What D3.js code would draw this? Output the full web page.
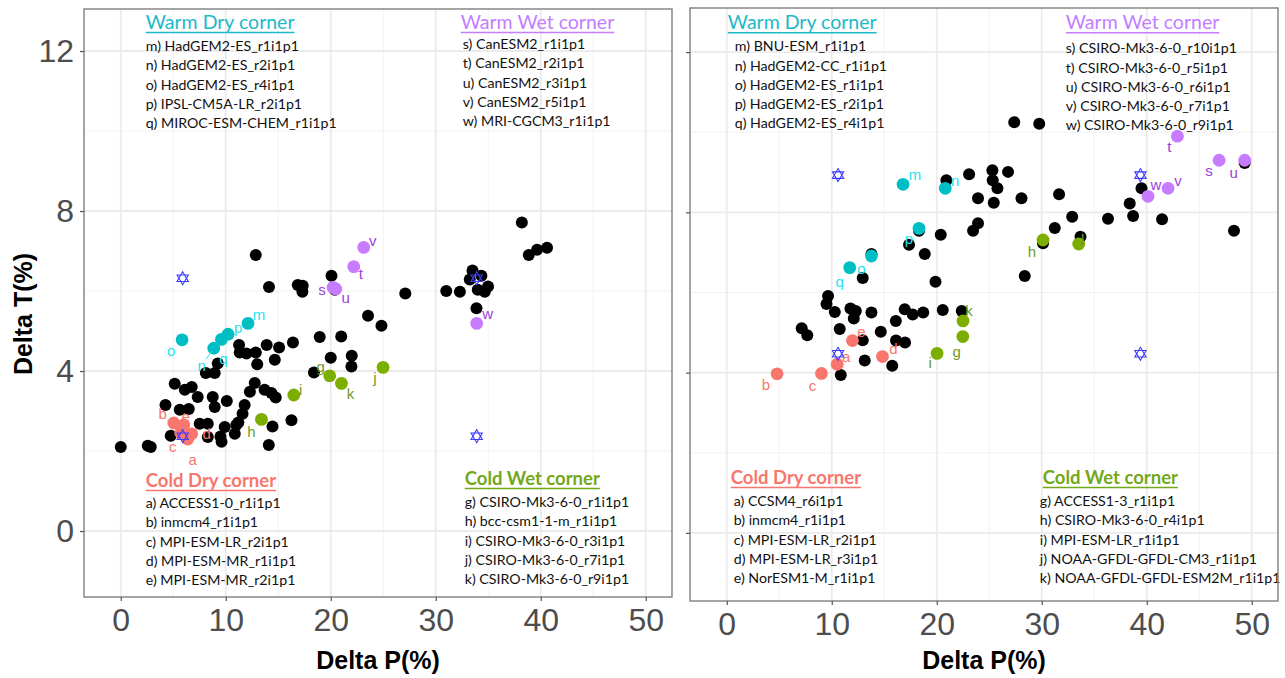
<!DOCTYPE html>
<html lang="en">
<head>
<meta charset="UTF-8">
<title>Delta P vs Delta T</title>
<script src="https://cdn.jsdelivr.net/npm/d3@7/dist/d3.min.js"></script>
<style>
  body { margin: 0; background: #fff; }
  text { font-family: "Liberation Sans", Arial, sans-serif; }
  .legend text { font-family: Lato, "Open Sans", sans-serif; }
</style>
</head>
<body>
<svg id="chart" width="1285" height="678"></svg>
<script>
// ---- data ----
const xTicks = [0, 10, 20, 30, 40, 50]
const yTicks = [0, 4, 8, 12]

// whole ensemble, [deltaP, deltaT]
const leftBlack = [
  [0.0, 2.10], [2.57, 2.13], [2.86, 2.10], [4.26, 3.15], [5.14, 3.68], [6.10, 3.53], [6.76, 3.60],
  [5.62, 3.03], [6.48, 3.05], [7.33, 3.35], [8.76, 3.35], [8.95, 3.10], [10.1, 3.25], [4.76, 2.38],
  [7.52, 2.68], [8.29, 2.68], [8.29, 2.35], [9.5, 2.36], [9.6, 2.23], [9.9, 2.60], [10.86, 2.43],
  [11.0, 2.65], [11.2, 2.71], [11.6, 2.93], [11.8, 3.15], [12.3, 3.48], [12.76, 3.70], [13.7, 3.53],
  [14.35, 3.45], [14.76, 3.34], [14.45, 2.61], [14.1, 2.15], [8.1, 3.95], [8.95, 3.95], [9.24, 4.19],
  [11.27, 4.65], [11.33, 4.46], [11.97, 4.44], [12.86, 4.46], [13.0, 4.17], [13.9, 4.65], [14.67, 4.28],
  [15.08, 4.59], [16.4, 4.71], [18.95, 4.85], [21.0, 4.86], [20.0, 4.33], [22.0, 4.38], [21.97, 4.11],
  [18.4, 3.96], [16.26, 2.77], [12.86, 6.90], [14.12, 6.10], [16.86, 6.15], [17.33, 6.13], [17.3, 5.98],
  [20.07, 6.38], [20.4, 6.03], [27.1, 5.94], [31.0, 6.0], [32.3, 5.98], [23.55, 5.38], [24.83, 5.13],
  [38.2, 7.71], [38.86, 6.90], [39.65, 7.03], [40.6, 7.08], [33.5, 6.51], [34.35, 6.38], [33.24, 6.29],
  [34.0, 6.03], [34.98, 6.11], [34.67, 5.98], [33.88, 5.57]
]
const rightBlack = [
  [20.92, 8.80], [23.08, 8.95], [25.30, 9.05], [25.33, 8.80], [25.78, 8.60], [26.79, 9.01], [23.93, 8.35],
  [25.43, 8.24], [28.07, 8.35], [31.65, 8.45], [23.93, 7.73], [23.46, 7.54], [20.38, 7.44], [17.36, 7.19],
  [18.86, 6.96], [12.95, 6.36], [19.88, 6.27], [9.65, 5.91], [9.50, 5.71], [10.29, 5.51], [11.78, 5.60],
  [12.29, 5.54], [12.1, 5.35], [13.78, 5.50], [16.95, 5.58], [17.71, 5.45], [18.71, 5.50], [20.57, 5.56],
  [22.38, 5.54], [16.1, 5.29], [7.14, 5.11], [7.67, 4.93], [10.76, 5.09], [14.67, 5.02], [12.95, 4.81],
  [16.12, 4.80], [16.98, 4.75], [13.14, 4.30], [15.76, 4.17], [10.86, 3.94], [27.38, 10.25], [29.76, 10.21],
  [32.9, 7.89], [36.31, 7.84], [38.38, 8.22], [31.24, 7.61], [30.12, 7.23], [33.69, 7.39], [28.38, 6.41],
  [39.5, 8.60], [38.7, 7.91], [41.46, 7.83], [48.31, 7.54], [49.33, 9.23], [18.31, 7.54], [13.78, 6.96]
]

// corner models, [letter, deltaP, deltaT]
const leftCorner = [
  ['a', 6.38, 2.30], ['b', 5.05, 2.70], ['c', 5.71, 2.45], ['d', 6.76, 2.43], ['e', 6.0, 2.65],
  ['g', 19.9, 3.88], ['h', 13.4, 2.79], ['i', 16.48, 3.40], ['j', 24.98, 4.09], ['k', 21.02, 3.69],
  ['m', 12.12, 5.19], ['n', 8.86, 4.57], ['o', 5.84, 4.78], ['p', 10.22, 4.92], ['q', 9.59, 4.79],
  ['s', 20.22, 6.09], ['t', 22.19, 6.61], ['u', 20.48, 6.05], ['v', 23.14, 7.09], ['w', 33.9, 5.19]
]
const rightCorner = [
  ['a', 10.52, 4.21], ['b', 4.79, 3.97], ['c', 9.02, 3.98], ['d', 14.83, 4.40], ['e', 11.97, 4.80],
  ['g', 22.48, 4.90], ['h', 30.12, 7.31], ['i', 20.03, 4.48], ['j', 33.52, 7.21], ['k', 22.5, 5.29],
  ['m', 16.79, 8.70], ['n', 20.81, 8.60], ['o', 13.78, 6.91], ['p', 18.31, 7.60], ['q', 11.71, 6.62],
  ['s', 46.89, 9.30], ['t', 42.92, 9.90], ['u', 49.33, 9.30], ['v', 42.03, 8.60], ['w', 40.12, 8.40]
]

// corner markers (stars)
const leftStars = [[5.9, 2.37], [5.9, 6.32], [33.9, 2.37], [33.9, 6.32]]
const rightStars = [[10.6, 4.47], [10.6, 8.93], [39.4, 4.47], [39.4, 8.93]]

// model names
const leftWarmDry = ['m) HadGEM2-ES_r1i1p1', 'n) HadGEM2-ES_r2i1p1', 'o) HadGEM2-ES_r4i1p1', 'p) IPSL-CM5A-LR_r2i1p1', 'q) MIROC-ESM-CHEM_r1i1p1']
const leftWarmWet = ['s) CanESM2_r1i1p1', 't) CanESM2_r2i1p1', 'u) CanESM2_r3i1p1', 'v) CanESM2_r5i1p1', 'w) MRI-CGCM3_r1i1p1']
const leftColdDry = ['a) ACCESS1-0_r1i1p1', 'b) inmcm4_r1i1p1', 'c) MPI-ESM-LR_r2i1p1', 'd) MPI-ESM-MR_r1i1p1', 'e) MPI-ESM-MR_r2i1p1']
const leftColdWet = ['g) CSIRO-Mk3-6-0_r1i1p1', 'h) bcc-csm1-1-m_r1i1p1', 'i) CSIRO-Mk3-6-0_r3i1p1', 'j) CSIRO-Mk3-6-0_r7i1p1', 'k) CSIRO-Mk3-6-0_r9i1p1']
const rightWarmDry = ['m) BNU-ESM_r1i1p1', 'n) HadGEM2-CC_r1i1p1', 'o) HadGEM2-ES_r1i1p1', 'p) HadGEM2-ES_r2i1p1', 'q) HadGEM2-ES_r4i1p1']
const rightWarmWet = ['s) CSIRO-Mk3-6-0_r10i1p1', 't) CSIRO-Mk3-6-0_r5i1p1', 'u) CSIRO-Mk3-6-0_r6i1p1', 'v) CSIRO-Mk3-6-0_r7i1p1', 'w) CSIRO-Mk3-6-0_r9i1p1']
const rightColdDry = ['a) CCSM4_r6i1p1', 'b) inmcm4_r1i1p1', 'c) MPI-ESM-LR_r2i1p1', 'd) MPI-ESM-LR_r3i1p1', 'e) NorESM1-M_r1i1p1']
const rightColdWet = ['g) ACCESS1-3_r1i1p1', 'h) CSIRO-Mk3-6-0_r4i1p1', 'i) MPI-ESM-LR_r1i1p1', 'j) NOAA-GFDL-GFDL-CM3_r1i1p1', 'k) NOAA-GFDL-GFDL-ESM2M_r1i1p1']

// ---- styling ----
const groupOf = l => 'abcde'.includes(l) ? 'coldDry' : 'ghijk'.includes(l) ? 'coldWet' : 'mnopq'.includes(l) ? 'warmDry' : 'warmWet'
const pointColor = { coldDry: '#F8766D', coldWet: '#7CAE00', warmDry: '#00BFC4', warmWet: '#C77CFF' }
const labelColor = { coldDry: '#F8766D', coldWet: '#6d9a2a', warmDry: '#1fe3f0', warmWet: '#9b3fd8' }
const headColor = { coldDry: '#F8766D', coldWet: '#74a81b', warmDry: '#1cb9c8', warmWet: '#c47dff' }
const headText = { coldDry: 'Cold Dry corner', coldWet: 'Cold Wet corner', warmDry: 'Warm Dry corner', warmWet: 'Warm Wet corner' }
const headBold = { coldDry: true, coldWet: true, warmDry: false, warmWet: false }

// label nudges in px (dx, dy)
const leftNudge = {
  a: [5, 20], b: [-11, -10], c: [-8, 13], d: [15, 0], e: [2, -9],
  g: [-9, -9], h: [-10, 12], i: [7, -6], j: [-8, 10], k: [9, 10],
  m: [11, -9], n: [-12, 17], o: [-11, 11], p: [10, -7], q: [2, 19],
  s: [-11, 2], t: [7, 7], u: [10, 8], v: [9, -7], w: [11, -10]
}
const rightNudge = {
  a: [9, -8], b: [-11, 11], c: [-9, 12], d: [11, -8], e: [9, -9],
  g: [-6, 15], h: [-11, 12], i: [-7, 9], j: [4, -7], k: [6, -10],
  m: [12, -10], n: [10, -8], o: [-10, 12], p: [-10, 10], q: [-10, 14],
  s: [-10, 10], t: [-8, 10], u: [-11, 12], v: [10, -8], w: [8, -12]
}

const svg = d3.select('#chart')

function hexagram(r) {
  const s = r * Math.sin(Math.PI / 3)
  return `M0,${-r}L${s},${r / 2}L${-s},${r / 2}Z M0,${r}L${s},${-r / 2}L${-s},${-r / 2}Z`
}

function drawPanel(opt) {
  const x = d3.scaleLinear().domain([-3.5, 52.5]).range([opt.left, opt.right])
  const y = d3.scaleLinear().domain(opt.yDomain).range([opt.bottom, opt.top])
  const g = svg.append('g')

  g.append('rect')
    .attr('x', opt.left).attr('y', opt.top)
    .attr('width', opt.right - opt.left).attr('height', opt.bottom - opt.top)
    .attr('fill', '#fff')

  // grid
  const xMinor = [5, 15, 25, 35, 45]
  const yMinor = [2, 6, 10]
  g.selectAll('.xmin').data(xMinor).join('line')
    .attr('x1', d => x(d)).attr('x2', d => x(d)).attr('y1', opt.top).attr('y2', opt.bottom)
    .attr('stroke', '#f2f2f2').attr('stroke-width', 1)
  g.selectAll('.ymin').data(yMinor).join('line')
    .attr('y1', d => y(d)).attr('y2', d => y(d)).attr('x1', opt.left).attr('x2', opt.right)
    .attr('stroke', '#f2f2f2').attr('stroke-width', 1)
  g.selectAll('.xmaj').data(xTicks).join('line')
    .attr('x1', d => x(d)).attr('x2', d => x(d)).attr('y1', opt.top).attr('y2', opt.bottom)
    .attr('stroke', '#ebebeb').attr('stroke-width', 1.8)
  g.selectAll('.ymaj').data(yTicks).join('line')
    .attr('y1', d => y(d)).attr('y2', d => y(d)).attr('x1', opt.left).attr('x2', opt.right)
    .attr('stroke', '#ebebeb').attr('stroke-width', 1.8)

  // legend blocks
  const lg = g.append('g').attr('class', 'legend')
  opt.legends.forEach(b => {
    const hx = x(b.at[0]), hy = y(b.at[1])
    const head = lg.append('text')
      .attr('x', hx).attr('y', hy)
      .attr('fill', headColor[b.group])
      .attr('font-size', headBold[b.group] ? 18.5 : 19.5)
      .attr('font-weight', headBold[b.group] ? 'bold' : 'normal')
      .text(headText[b.group])
    const w = head.node().getComputedTextLength()
    lg.append('line')
      .attr('x1', hx).attr('x2', hx + w).attr('y1', hy + 3.5).attr('y2', hy + 3.5)
      .attr('stroke', headColor[b.group]).attr('stroke-width', 1.3)
    lg.selectAll(null).data(b.names).join('text')
      .attr('x', hx + b.indent)
      .attr('y', (d, i) => hy + b.gap + i * 19.3)
      .attr('fill', '#111')
      .attr('font-size', 14.2)
      .text(d => d)
  })

  // border
  g.append('rect')
    .attr('x', opt.left).attr('y', opt.top)
    .attr('width', opt.right - opt.left).attr('height', opt.bottom - opt.top)
    .attr('fill', 'none').attr('stroke', '#7f7f7f').attr('stroke-width', 1.4)

  // axes
  const xAxis = g.append('g')
    .attr('transform', `translate(0,${opt.bottom})`)
    .call(d3.axisBottom(x).tickValues(xTicks).tickSize(4).tickPadding(7))
  const yAxis = g.append('g')
    .attr('transform', `translate(${opt.left},0)`)
    .call(d3.axisLeft(y).tickValues(yTicks).tickSize(4).tickPadding(6)
      .tickFormat(opt.yLabels ? d3.format('d') : () => ''))
  ;[xAxis, yAxis].forEach(a => {
    a.select('.domain').remove()
    a.selectAll('.tick line').attr('stroke', '#555').attr('stroke-width', 1.2)
    a.selectAll('.tick text')
      .attr('fill', '#4d4d4d')
      .attr('font-size', 32)
      .attr('font-family', '"Liberation Sans", Arial, sans-serif')
  })

  // ensemble points
  g.selectAll('.ens').data(opt.black).join('circle')
    .attr('cx', d => x(d[0])).attr('cy', d => y(d[1]))
    .attr('r', 6).attr('fill', '#000')

  // corner models
  g.selectAll('.corner').data(opt.corner).join('circle')
    .attr('cx', d => x(d[1])).attr('cy', d => y(d[2]))
    .attr('r', 6.4).attr('fill', d => pointColor[groupOf(d[0])])

  // segments for labels pushed far away
  g.selectAll('.seg').data(opt.corner.filter(d => opt.segments.includes(d[0]))).join('line')
    .attr('x1', d => x(d[1]) - 2).attr('y1', d => y(d[2]) + 3)
    .attr('x2', d => x(d[1]) + opt.nudge[d[0]][0] * 0.65)
    .attr('y2', d => y(d[2]) + opt.nudge[d[0]][1] * 0.65)
    .attr('stroke', d => labelColor[groupOf(d[0])]).attr('stroke-width', 1)

  g.selectAll('.lab').data(opt.corner).join('text')
    .attr('x', d => x(d[1]) + opt.nudge[d[0]][0])
    .attr('y', d => y(d[2]) + opt.nudge[d[0]][1])
    .attr('text-anchor', 'middle')
    .attr('dominant-baseline', 'central')
    .attr('font-size', 15)
    .attr('fill', d => labelColor[groupOf(d[0])])
    .text(d => d[0])

  // stars
  g.selectAll('.star').data(opt.stars).join('path')
    .attr('transform', d => `translate(${x(d[0])},${y(d[1])})`)
    .attr('d', hexagram(6.5))
    .attr('fill', 'none').attr('stroke', '#3b3bff').attr('stroke-width', 1.1)

  // x title
  g.append('text')
    .attr('x', (opt.left + opt.right) / 2).attr('y', 669)
    .attr('text-anchor', 'middle')
    .attr('font-size', 25).attr('font-weight', 'bold').attr('fill', '#000')
    .text('Delta P(%)')
}

drawPanel({
  left: 84, right: 672, top: 9, bottom: 597, yDomain: [-1.65, 13.05], yLabels: true,
  black: leftBlack, corner: leftCorner, stars: leftStars, nudge: leftNudge, segments: ['n'],
  legends: [
    { group: 'warmDry', at: [2.38, 12.55], indent: 0, gap: 22, names: leftWarmDry },
    { group: 'warmWet', at: [32.38, 12.55], indent: 2, gap: 20, names: leftWarmWet },
    { group: 'coldDry', at: [2.38, 1.10], indent: 0, gap: 21, names: leftColdDry },
    { group: 'coldWet', at: [32.76, 1.15], indent: 0, gap: 22, names: leftColdWet }
  ]
})

drawPanel({
  left: 690, right: 1278, top: 8, bottom: 601, yDomain: [-1.70, 13.10], yLabels: false,
  black: rightBlack, corner: rightCorner, stars: rightStars, nudge: rightNudge, segments: [],
  legends: [
    { group: 'warmDry', at: [0.1, 12.57], indent: 7, gap: 22, names: rightWarmDry },
    { group: 'warmWet', at: [32.29, 12.57], indent: 0, gap: 24, names: rightWarmWet },
    { group: 'coldDry', at: [0.38, 1.22], indent: 3, gap: 22, names: rightColdDry },
    { group: 'coldWet', at: [30.1, 1.22], indent: -3, gap: 22, names: rightColdWet }
  ]
})

// y title
svg.append('text')
  .attr('transform', 'translate(32,314) rotate(-90)')
  .attr('text-anchor', 'middle')
  .attr('font-size', 25).attr('font-weight', 'bold').attr('fill', '#000')
  .text('Delta T(%)')
</script>
</body>
</html>
